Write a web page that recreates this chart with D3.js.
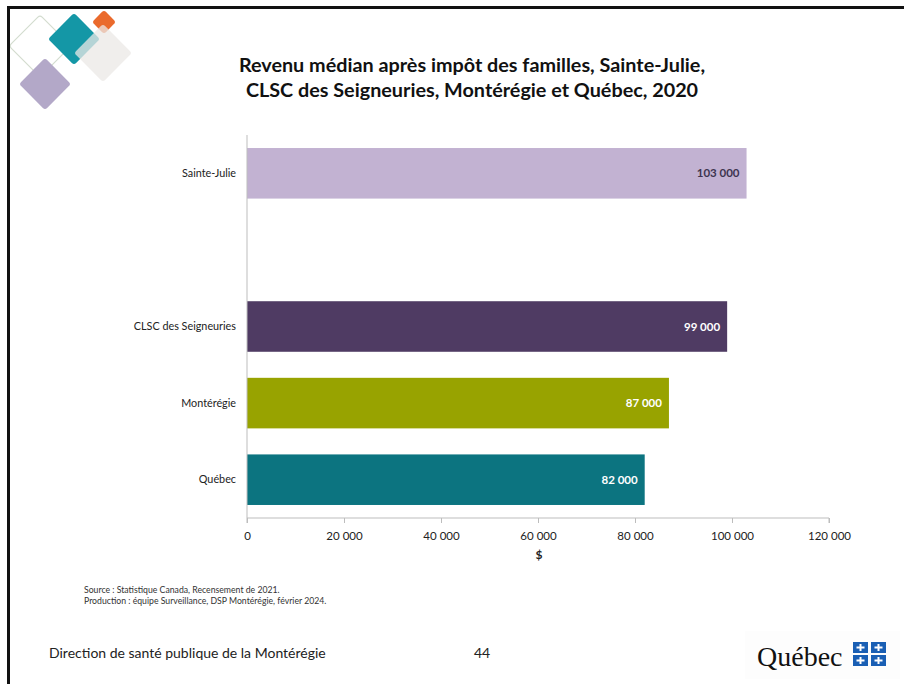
<!DOCTYPE html>
<html><head><meta charset="utf-8">
<script src="https://cdn.jsdelivr.net/npm/d3@7"></script>
<style>body{margin:0;background:#fff;}svg{display:block;font-family:Lato,"Open Sans",sans-serif;}</style>
</head><body>
<svg id="c" width="904" height="684"></svg>
<script>
const categories = ["Sainte-Julie", "", "CLSC des Seigneuries", "Montérégie", "Québec"];
const values = [103000, null, 99000, 87000, 82000];
const valueLabels = ["103 000", "", "99 000", "87 000", "82 000"];
const barColors = ["#c2b2d2", "none", "#4f3b63", "#98a300", "#0c7480"];
const labelColors = ["#3e3550", "none", "#ffffff", "#ffffff", "#ffffff"];
const xTicks = [0, 20000, 40000, 60000, 80000, 100000, 120000];
const xTickLabels = ["0", "20 000", "40 000", "60 000", "80 000", "100 000", "120 000"];
const titleLines = ["Revenu médian après impôt des familles, Sainte-Julie,", "CLSC des Seigneuries, Montérégie et Québec, 2020"];
const sourceLines = ["Source : Statistique Canada,  Recensement de 2021.", "Production : équipe Surveillance, DSP Montérégie, février 2024."];

const svg = d3.select("#c");

// slide frame
svg.append("rect").attr("x",0).attr("y",0).attr("width",904).attr("height",684).attr("fill","#fff");

// decorative diamonds
const deco = svg.append("g");
function diamond(cx, cy, h, fill, stroke, op){
  deco.append("rect").attr("x",cx-h/Math.SQRT2).attr("y",cy-h/Math.SQRT2)
    .attr("width",h*Math.SQRT2).attr("height",h*Math.SQRT2).attr("rx",3)
    .attr("transform",`rotate(45 ${cx} ${cy})`)
    .attr("fill",fill).attr("stroke",stroke||"none").attr("stroke-width",1.2).attr("opacity",op==null?1:op);
}
diamond(40,46,31,"none","#d3dccf");
diamond(45,84,26,"#b3a8c8");
diamond(74,39,26,"#1497a6");
diamond(104,22,12,"#ea6a2c");
diamond(103,53,29,"#ebe8e6",null,0.75);

svg.append("rect").attr("x",7).attr("y",6).attr("width",897).attr("height",3).attr("fill","#111");
svg.append("rect").attr("x",7).attr("y",6).attr("width",3).attr("height",678).attr("fill","#111");

// title
svg.append("g").selectAll("text").data(titleLines).join("text")
  .attr("x",472).attr("y",(d,i)=>72+i*25).attr("text-anchor","middle")
  .attr("font-size",19.8).attr("font-weight","bold").attr("fill","#111").text(d=>d);

// chart
const x = d3.scaleLinear().domain([0,120000]).range([247,829]);
const y = d3.scaleBand().domain(categories.map((d,i)=>i)).range([135,518]).paddingInner(0.34).paddingOuter(0.17);

const bars = svg.append("g");
bars.selectAll("rect").data(values).join("rect")
  .filter(d=>d!=null)
  .attr("x",x(0)).attr("y",(d,i)=>y(values.indexOf(d)))
  .attr("width",d=>x(d)-x(0)).attr("height",y.bandwidth())
  .attr("fill",(d)=>barColors[values.indexOf(d)]);

bars.selectAll("text").data(values).join("text")
  .filter(d=>d!=null)
  .attr("x",d=>x(d)-7).attr("y",d=>y(values.indexOf(d))+y.bandwidth()/2+4)
  .attr("text-anchor","end").attr("font-size",11.5).attr("font-weight","bold")
  .attr("fill",d=>labelColors[values.indexOf(d)]).text(d=>valueLabels[values.indexOf(d)]);

// y axis
const yAxis = d3.axisLeft(y).tickSize(0).tickPadding(11).tickFormat(i=>categories[i]);
const gy = svg.append("g").attr("transform",`translate(${x(0)},0)`).call(yAxis);
gy.select(".domain").attr("stroke","#bdbdbd").attr("d",`M0,135V518`);
gy.selectAll("text").attr("font-size",10.8).attr("fill","#222").attr("font-family","Lato,sans-serif");

// x axis
const xAxis = d3.axisBottom(x).tickValues(xTicks).tickSize(5).tickPadding(9)
  .tickFormat((d,i)=>xTickLabels[i]);
const gx = svg.append("g").attr("transform","translate(0,518)").call(xAxis);
gx.select(".domain").attr("stroke","#bdbdbd").attr("d",`M${x(0)},5V0H${x(120000)}V5`);
gx.selectAll(".tick line").attr("stroke","#bdbdbd");
gx.selectAll("text").attr("font-size",11.5).attr("fill","#222").attr("font-family","Lato,sans-serif");

svg.append("text").attr("x",539).attr("y",559).attr("text-anchor","middle")
  .attr("font-size",12).attr("font-weight","bold").attr("fill","#222").text("$");

// source
svg.append("g").selectAll("text").data(sourceLines).join("text")
  .attr("x",84).attr("y",(d,i)=>593+i*11).attr("font-size",8.7).attr("fill","#333").text(d=>d);

// footer
svg.append("text").attr("x",49).attr("y",658).attr("font-size",14).attr("fill","#222")
  .text("Direction de santé publique de la Montérégie");
svg.append("text").attr("x",474).attr("y",658).attr("font-size",14).attr("fill","#222").text("44");

// Québec logo
svg.append("rect").attr("x",745).attr("y",631).attr("width",155).attr("height",48).attr("fill","#fdfdfd");
svg.append("text").attr("x",757).attr("y",666).attr("font-size",28)
  .attr("font-family","'Liberation Serif','DejaVu Serif',serif").attr("fill","#111").text("Québec");
const flags = svg.append("g");
[[853,642],[871,642],[853,655],[871,655]].forEach(([fx,fy])=>{
  flags.append("rect").attr("x",fx).attr("y",fy).attr("width",15).attr("height",11).attr("fill","#1a5fb4");
  flags.append("rect").attr("x",fx+6.5).attr("y",fy+2).attr("width",2).attr("height",7).attr("fill","#fff");
  flags.append("rect").attr("x",fx+3.5).attr("y",fy+4.5).attr("width",8).attr("height",2).attr("fill","#fff");
});
</script>
</body></html>
